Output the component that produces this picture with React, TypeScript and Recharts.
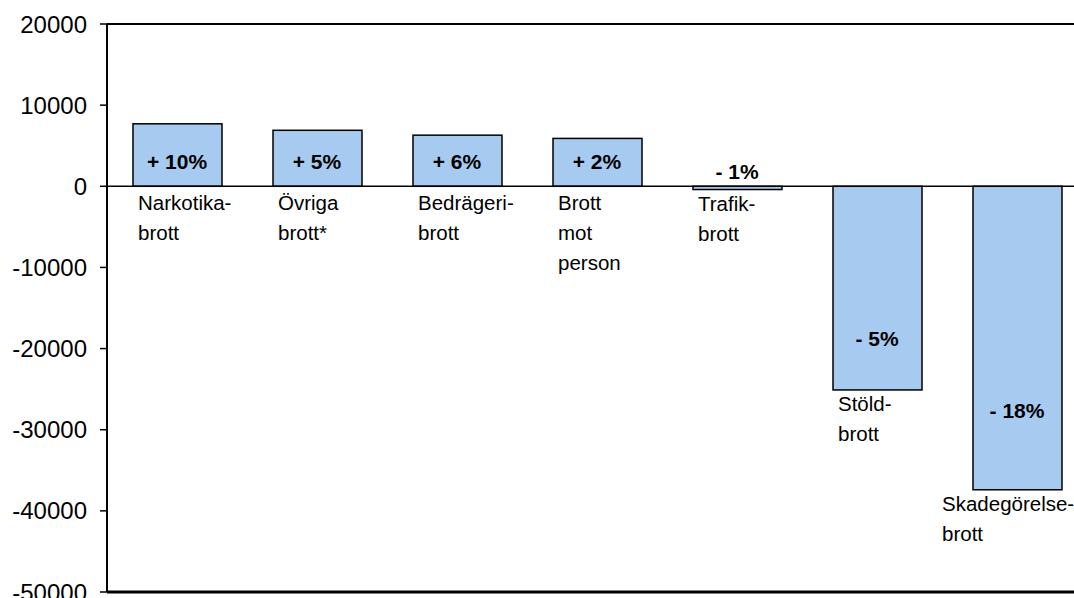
import { BarChart, Bar, XAxis, YAxis, ReferenceLine, ReferenceDot } from 'recharts'

const categories = [
  'Narkotika-\nbrott',
  'Övriga\nbrott*',
  'Bedrägeri-\nbrott',
  'Brott\nmot\nperson',
  'Trafik-\nbrott',
  'Stöld-\nbrott',
  'Skadegörelse-\nbrott',
]
const changes = [7700, 6900, 6300, 5900, -400, -25100, -37400]
const percentLabels = ['+ 10%', '+ 5%', '+ 6%', '+ 2%', '- 1%', '- 5%', '- 18%']
// where the percent annotations sit, in axis units
const percentLabelAt = [3100, 3100, 3100, 3100, 1800, -18800, -27600]
const yTicks = [20000, 10000, 0, -10000, -20000, -30000, -40000, -50000]

const data = categories.map((name, i) => ({ name, value: changes[i] }))

const FONT = '"Liberation Sans", Arial, sans-serif'

const BarWithName = (props: any) => {
  const { x, y, width, height, index, fill, value } = props
  const top = Math.min(y, y + height)
  const h = Math.abs(height)
  const bottom = top + h
  // for positive bars the bottom edge is the zero line
  const v = Array.isArray(value) ? value[1] - value[0] : changes[index]
  const baseY = v >= 0 ? bottom + 23.5 : bottom + 21
  const lines = categories[index].split('\n')
  const isLast = index === categories.length - 1
  const tx = isLast ? x - 31 : x + 5
  return (
    <g>
      <rect x={x} y={top} width={width} height={h} fill={fill} stroke="#000" strokeWidth={1.5} />
      <text fontSize={20.5} fontFamily={FONT} fill="#000">
        {lines.map((line, i) => (
          <tspan key={i} x={tx} y={baseY + i * 30}>
            {line}
          </tspan>
        ))}
      </text>
    </g>
  )
}

export default function App() {
  return (
    <div
      style={{
        position: 'absolute',
        left: 0,
        top: 0,
        width: 1074,
        height: 598,
        overflow: 'hidden',
        background: '#fff',
        fontFamily: FONT,
      }}
    >
      <BarChart
        width={1100}
        height={598}
        data={data}
        margin={{ top: 24, right: 13, bottom: 6, left: 0 }}
      >
        <XAxis dataKey="name" hide />
        <YAxis
          width={107}
          domain={[-50000, 20000]}
          ticks={yTicks}
          interval={0}
          axisLine={{ stroke: '#000', strokeWidth: 2 }}
          tickLine={{ stroke: '#000', strokeWidth: 1.5 }}
          tickSize={7}
          tickMargin={13}
          tick={{ fill: '#000', fontSize: 24, fontFamily: FONT }}
        />
        <ReferenceLine y={20000} stroke="#000" strokeWidth={2} />
        <ReferenceLine y={-50000} stroke="#000" strokeWidth={3} />
        <Bar
          dataKey="value"
          fill="#A6CAF0"
          barSize={89}
          shape={<BarWithName />}
          isAnimationActive={false}
        />
        <ReferenceLine y={0} stroke="#000" strokeWidth={1.5} />
        {categories.map((c, i) => (
          <ReferenceDot
            key={c}
            x={c}
            y={percentLabelAt[i]}
            r={1}
            fill="none"
            stroke="none"
            label={{
              value: percentLabels[i],
              position: 'center',
              fill: '#000',
              fontSize: 21,
              fontWeight: 'bold',
              fontFamily: FONT,
            }}
          />
        ))}
      </BarChart>
    </div>
  )
}
